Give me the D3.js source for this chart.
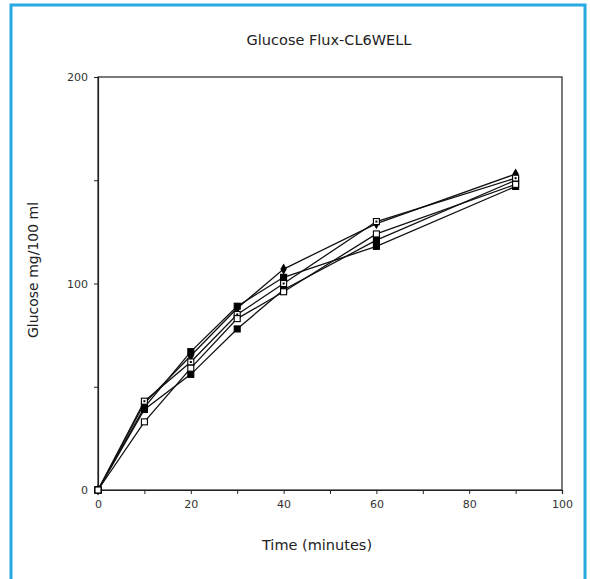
<!DOCTYPE html>
<html><head><meta charset="utf-8">
<script src="https://cdn.jsdelivr.net/npm/d3@7"></script>
<style>body{margin:0;background:#fff}svg{display:block}text{font-family:"DejaVu Sans",Verdana,sans-serif}</style>
</head><body><svg id="c" width="590" height="579"></svg>
<script>
const times = [0, 10, 20, 30, 40, 60, 90];
const seriesA = [0, 40, 67, 89, 103, 118, 147];
const seriesB = [0, 33, 59, 83, 96, 124, 148];
const seriesC = [0, 39, 56, 78, 97, 121, 150];
const seriesD = [0, 42, 65, 88, 107, 129, 153];
const seriesE = [0, 43, 62, 85, 100, 130, 151];
const series = [
  {values: seriesA, marker: "filled"},
  {values: seriesC, marker: "filled"},
  {values: seriesD, marker: "diamond"},
  {values: seriesE, marker: "dotted"},
  {values: seriesB, marker: "open"}
];
const xTicks = [0, 20, 40, 60, 80, 100];
const yTicks = [0, 100, 200];

const svg = d3.select("#c");
svg.append("rect").attr("x", 11).attr("y", 5).attr("width", 574).attr("height", 590)
  .attr("fill", "none").attr("stroke", "#27aae1").attr("stroke-width", 3);

const x = d3.scaleLinear().domain([0, 100]).range([98, 562]);
const y = d3.scaleLinear().domain([0, 200]).range([490, 77]);

svg.append("rect").attr("x", x(0)).attr("y", y(200)).attr("width", x(100) - x(0)).attr("height", y(0) - y(200))
  .attr("fill", "none").attr("stroke", "#222").attr("stroke-width", 1.2);

const xAxis = svg.append("g").attr("transform", `translate(0,${y(0)})`)
  .call(d3.axisBottom(x).tickValues(d3.range(0, 101, 10)).tickSize(4).tickPadding(6)
    .tickFormat(d => xTicks.includes(d) ? d : ""));
const yAxis = svg.append("g").attr("transform", `translate(${x(0)},0)`)
  .call(d3.axisLeft(y).tickValues(d3.range(0, 201, 50)).tickSize(4).tickPadding(6)
    .tickFormat(d => yTicks.includes(d) ? d : ""));
[xAxis, yAxis].forEach(g => {
  g.select(".domain").attr("stroke", "#222").attr("stroke-width", 1.2);
  g.selectAll(".tick line").attr("stroke", "#222");
  g.selectAll("text").attr("font-size", 11).attr("fill", "#333");
});

const line = d3.line().x((d, i) => x(times[i])).y(d => y(d));
series.forEach(s => {
  svg.append("path").attr("d", line(s.values)).attr("fill", "none")
    .attr("stroke", "#111").attr("stroke-width", 1.3);
});
series.forEach(s => {
  const g = svg.append("g");
  s.values.forEach((v, i) => {
    const cx = x(times[i]), cy = y(v);
    if (s.marker === "diamond") {
      g.append("path").attr("d", d3.symbol(d3.symbolDiamond, 36)())
        .attr("transform", `translate(${cx},${cy})`).attr("fill", "#000");
    } else {
      g.append("rect").attr("x", cx - 3).attr("y", cy - 3).attr("width", 6).attr("height", 6)
        .attr("fill", s.marker === "filled" ? "#000" : "#fff")
        .attr("stroke", "#000").attr("stroke-width", 1.1);
      if (s.marker === "dotted") {
        g.append("rect").attr("x", cx - 1).attr("y", cy - 1).attr("width", 2).attr("height", 2).attr("fill", "#000");
      }
    }
  });
});

svg.append("text").attr("x", 329).attr("y", 45).attr("text-anchor", "middle")
  .attr("font-size", 14.5).attr("fill", "#222").text("Glucose Flux-CL6WELL");
svg.append("text").attr("x", 317).attr("y", 550).attr("text-anchor", "middle")
  .attr("font-size", 14.5).attr("fill", "#222").text("Time (minutes)");
svg.append("text").attr("transform", `translate(38,270) rotate(-90)`).attr("text-anchor", "middle")
  .attr("font-size", 14).attr("fill", "#222").text("Glucose mg/100 ml");
</script></body></html>
